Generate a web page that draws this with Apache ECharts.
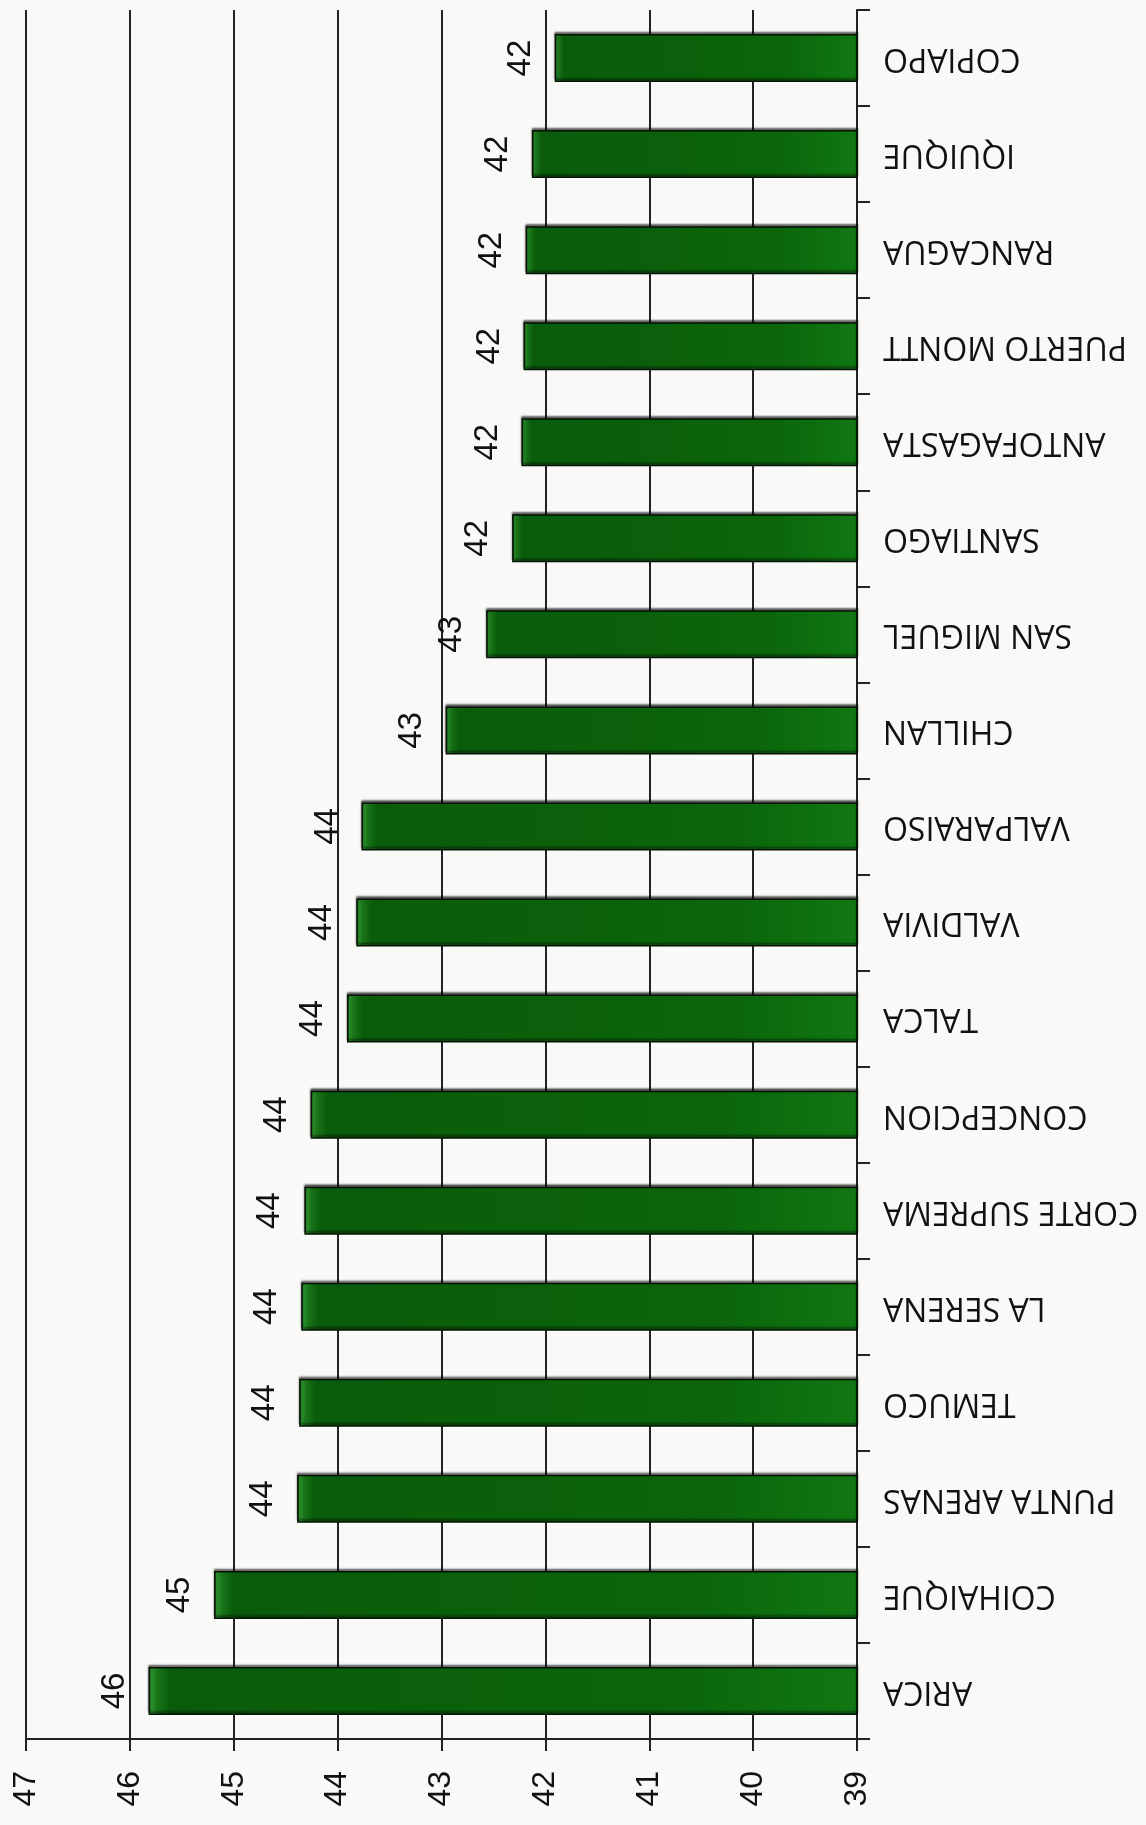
<!DOCTYPE html>
<html>
<head>
<meta charset="utf-8">
<script src="https://cdn.jsdelivr.net/npm/echarts@6/dist/echarts.min.js"></script>
<style>
  html, body { margin: 0; padding: 0; background: #f9f9f8; }
  #chart { width: 1146px; height: 1825px; }
</style>
</head>
<body>
<div id="chart"></div>
<script>
// categories from bottom (first) to top (last)
var ciudades = ['ARICA', 'COIHAIQUE', 'PUNTA ARENAS', 'TEMUCO', 'LA SERENA', 'CORTE SUPREMA',
  'CONCEPCION', 'TALCA', 'VALDIVIA', 'VALPARAISO', 'CHILLAN', 'SAN MIGUEL', 'SANTIAGO',
  'ANTOFAGASTA', 'PUERTO MONTT', 'RANCAGUA', 'IQUIQUE', 'COPIAPO'];
var valores = [45.82, 45.19, 44.39, 44.37, 44.35, 44.32,
  44.26, 43.91, 43.82, 43.77, 42.96, 42.57, 42.32,
  42.23, 42.21, 42.19, 42.13, 41.91];
var ejeMin = 39;
var ejeMax = 47;

var myChart = echarts.init(document.getElementById('chart'));

var option = {
  backgroundColor: '#f9f9f8',
  animation: false,
  grid: { left: 26, right: 289, top: 10, bottom: 86 },
  xAxis: {
    type: 'value',
    position: 'bottom',
    inverse: true,
    min: ejeMin,
    max: ejeMax,
    interval: 1,
    axisLine: { show: true, lineStyle: { color: '#222', width: 2 } },
    axisTick: { show: true, length: 12, lineStyle: { color: '#222', width: 2 } },
    axisLabel: {
      rotate: 90,
      margin: 32,
      color: '#111',
      fontSize: 32,
      fontFamily: 'Liberation Sans'
    },
    splitLine: { show: true, lineStyle: { color: '#222', width: 2 } }
  },
  yAxis: {
    type: 'category',
    position: 'right',
    data: ciudades,
    axisLine: { show: true, onZero: false, lineStyle: { color: '#222', width: 2 } },
    axisTick: { show: true, length: 13, lineStyle: { color: '#222', width: 2 } },
    axisLabel: {
      rotate: 180,
      margin: 26,
      color: '#111',
      fontSize: 32,
      fontFamily: 'Open Sans'
    },
    splitLine: { show: false }
  },
  series: [{
    name: 'valor',
    type: 'bar',
    data: valores,
    barWidth: 48,
    itemStyle: {
      color: new echarts.graphic.LinearGradient(0, 0, 1, 0, [
        { offset: 0, color: '#34a034' },
        { offset: 0.012, color: '#1a761a' },
        { offset: 0.03, color: '#0a5c0a' },
        { offset: 0.75, color: '#0b650b' },
        { offset: 1, color: '#107812' }
      ]),
      borderColor: '#061206',
      borderWidth: 1.5,
      shadowColor: 'rgba(0,0,0,0.6)',
      shadowBlur: 2,
      shadowOffsetY: -2
    },
    label: {
      show: true,
      position: 'left',
      distance: 34,
      rotate: 90,
      align: 'center',
      verticalAlign: 'middle',
      color: '#111',
      fontSize: 33,
      fontFamily: 'Liberation Sans',
      formatter: function (p) {
        return Math.round(p.value);
      }
    }
  }]
};

myChart.setOption(option);
</script>
</body>
</html>
